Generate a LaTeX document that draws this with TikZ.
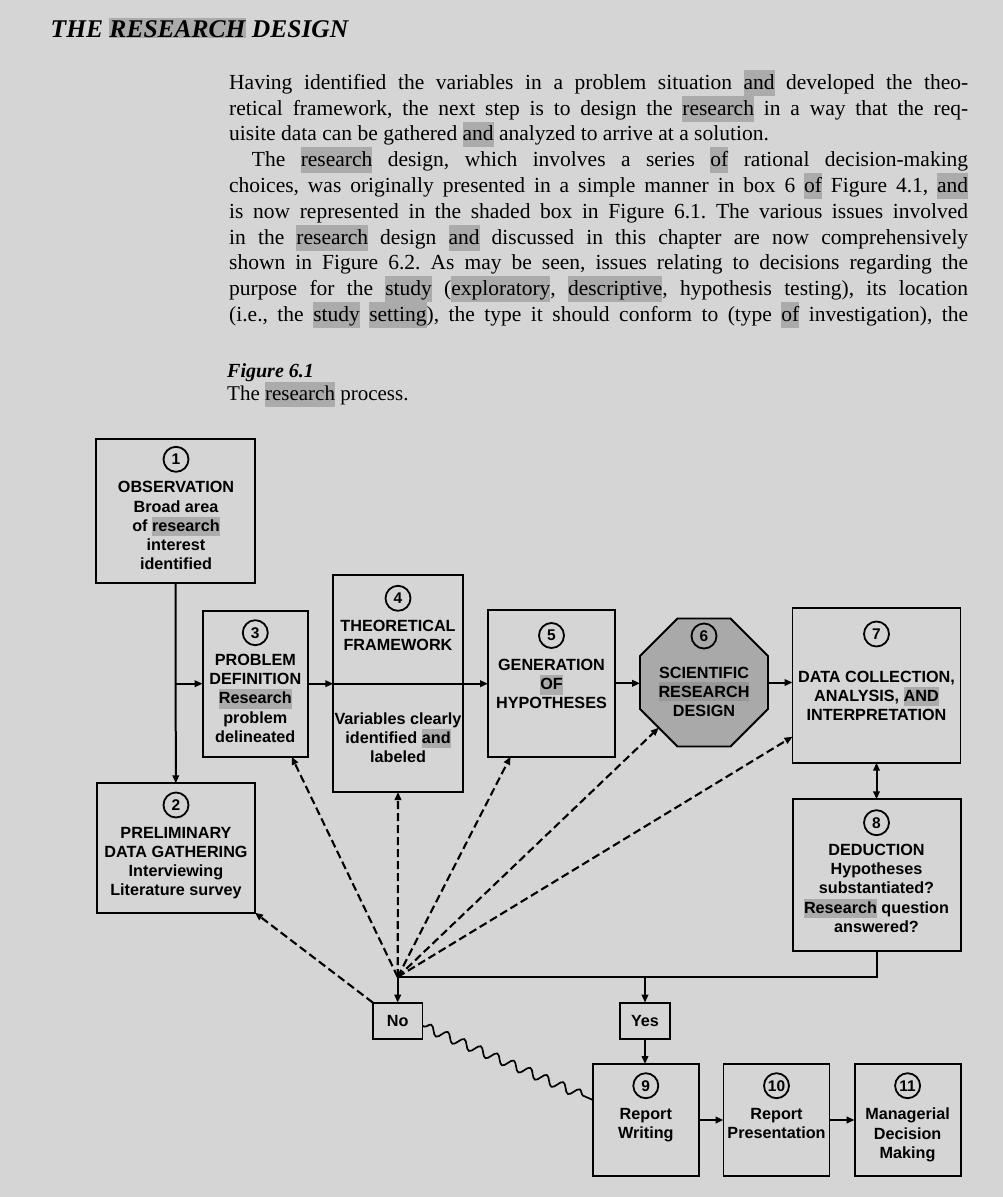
\documentclass[tikz,border=0pt]{standalone}
\usepackage{fontspec}
\setmainfont{Liberation Serif}
\setsansfont{Liberation Sans}
\usetikzlibrary{arrows.meta,decorations.pathmorphing,calc}
\definecolor{bg}{HTML}{D5D5D5}
\definecolor{hlc}{HTML}{ABABAB}
\definecolor{octfill}{HTML}{A9A9A9}
\definecolor{octhl}{HTML}{979797}
\newcommand\hl[1]{\smash{\setlength{\fboxsep}{0pt}\colorbox{hlc}{\rule[-0.3em]{0pt}{1.2em}#1}}}
\newcommand\hlo[1]{\smash{\setlength{\fboxsep}{0pt}\colorbox{octhl}{\rule[-0.25em]{0pt}{1.2em}#1}}}
\newcommand\hlh[1]{\smash{\setlength{\fboxsep}{0pt}\colorbox{hlc}{\rule{0pt}{0.75em}#1}}}
\tikzset{
  box/.style={draw, line width=1.8pt, inner sep=0pt, outer sep=0pt},
  num/.style={circle, draw, line width=1.8pt, minimum size=25pt, inner sep=0pt,
    font=\sffamily\bfseries\fontsize{15.5}{15.5}\selectfont},
  lbl/.style={inner sep=0pt, align=center, anchor=north,
    font=\sffamily\bfseries\fontsize{16.2}{19.2}\selectfont},
  tip/.style={-{Triangle[length=8pt,width=6.5pt]}},
  conn/.style={line width=2pt, tip},
  plain/.style={line width=2pt},
  dashconn/.style={line width=2.1pt, dash pattern=on 8pt off 4pt, tip},
  para/.style={inner sep=0pt, anchor=base west, font=\fontsize{21.5}{25.8}\selectfont},
}
\begin{document}
\frenchspacing
\begin{tikzpicture}[x=1pt,y=-1pt]
\fill[bg] (0,0) rectangle (1003,1197);
\useasboundingbox (0,0) rectangle (1003,1197);

% heading and text
\node[inner sep=0pt, anchor=base west, font=\bfseries\itshape\fontsize{25.5}{30}\selectfont] (title) at (50.5,37.3) {THE \hlh{RESEARCH} DESIGN};

\node[para] (p1) at (229,89.3) {\makebox[739pt][s]{Having identified the variables in a problem situation \hl{and} developed the theo-}};
\node[para] (p2) at (229,115.1) {\makebox[739pt][s]{retical framework, the next step is to design the \hl{research} in a way that the req-}};
\node[para] (p3) at (229,140.9) {uisite data can be gathered \hl{and} analyzed to arrive at a solution.};
\node[para] (p4) at (251.7,166.7) {\makebox[716.3pt][s]{The \hl{research} design, which involves a series \hl{of} rational decision-making}};
\node[para] (p5) at (229,192.5) {\makebox[739pt][s]{choices, was originally presented in a simple manner in box 6 \hl{of} Figure 4.1, \hl{and}}};
\node[para] (p6) at (229,218.3) {\makebox[739pt][s]{is now represented in the shaded box in Figure 6.1. The various issues involved}};
\node[para] (p7) at (229,244.1) {\makebox[739pt][s]{in the \hl{research} design \hl{and} discussed in this chapter are now comprehensively}};
\node[para] (p8) at (229,269.9) {\makebox[739pt][s]{shown in Figure 6.2. As may be seen, issues relating to decisions regarding the}};
\node[para] (p9) at (229,295.7) {\makebox[739pt][s]{purpose for the \hl{study} (\hl{exploratory}, \hl{descriptive}, hypothesis testing), its location}};
\node[para] (p10) at (229,321.5) {\makebox[739pt][s]{(i.e., the \hl{study} \hl{setting}), the type it should conform to (type \hl{of} investigation), the}};

\node[inner sep=0pt, anchor=base west, font=\bfseries\itshape\fontsize{20}{24}\selectfont] (figlab) at (227,377) {Figure 6.1};
\node[para, font=\fontsize{21}{25.8}\selectfont] (figcap) at (227,400.7) {The \hl{research} process.};

% boxes
\node[box, minimum width=159.3pt, minimum height=144pt] (b1) at (175.6,510.7) {};
\node[num] (n1) at (176,459.3) {1};
\node[lbl] (t1) at (176,481.3) {OBSERVATION\\Broad area\\of \hl{research}\\interest\\identified};

\node[box, minimum width=158.3pt, minimum height=129.4pt] (b2) at (175.8,848) {};
\node[num] (n2) at (176,805) {2};
\node[lbl] (t2) at (176,826.7) {PRELIMINARY\\DATA GATHERING\\Interviewing\\Literature survey};

\node[box, minimum width=105.3pt, minimum height=146pt] (b3) at (255.3,683.7) {};
\node[num] (n3) at (255.3,632.7) {3};
\node[lbl] (t3) at (255.3,654) {PROBLEM\\DEFINITION\\\hl{Research}\\problem\\delineated};

\node[box, minimum width=129.4pt, minimum height=217pt] (b4) at (398,683.5) {};
\node[num] (n4) at (398,598.3) {4};
\node[lbl] (t4a) at (398,620) {THEORETICAL\\FRAMEWORK};
\node[lbl] (t4b) at (398,712.3) {Variables clearly\\identified \hl{and}\\labeled};

\node[box, minimum width=127pt, minimum height=146.7pt] (b5) at (551.5,683.3) {};
\node[num] (n5) at (551.5,635.5) {5};
\node[lbl] (t5) at (551.5,659) {GENERATION\\\hl{OF}\\HYPOTHESES};

\node[inner sep=0pt, outer sep=0pt, minimum size=128pt] (b6) at (704,682.5) {};
\draw[line width=1.8pt, fill=octfill] (677.5,618.5) -- (730.5,618.5) -- (768,656) -- (768,709)
  -- (730.5,746.5) -- (677.5,746.5) -- (640,709) -- (640,656) -- cycle;
\node[num] (n6) at (704,636) {6};
\node[lbl] (t6) at (704,666.7) {SCIENTIFIC\\\hlo{RESEARCH}\\DESIGN};
\coordinate (o6sw) at (658.75,727.75);

\node[box, minimum width=168pt, minimum height=155pt] (b7) at (876.5,685.2) {};
\node[num] (n7) at (876.5,634) {7};
\node[lbl] (t7) at (876.5,670.7) {DATA COLLECTION,\\ANALYSIS, \hl{AND}\\INTERPRETATION};

\node[box, minimum width=168pt, minimum height=151.4pt] (b8) at (876.7,875) {};
\node[num] (n8) at (876.5,822.7) {8};
\node[lbl] (t8) at (876.5,844) {DEDUCTION\\Hypotheses\\substantiated?\\\hl{Research} question\\answered?};

\node[box, minimum width=49.5pt, minimum height=36.3pt, font=\sffamily\bfseries\fontsize{16.2}{19.2}\selectfont] (no) at (397.7,1020.8) {No};
\node[box, minimum width=50pt, minimum height=36.3pt, font=\sffamily\bfseries\fontsize{16.2}{19.2}\selectfont] (yes) at (645,1020.8) {Yes};

\node[box, minimum width=105.6pt, minimum height=112pt] (b9) at (645.8,1120) {};
\node[num] (n9) at (645.8,1085.7) {9};
\node[lbl] (t9) at (645.8,1108) {Report\\Writing};

\node[box, minimum width=106pt, minimum height=112pt] (b10) at (776.5,1120) {};
\node[num] (n10) at (776.5,1085.7) {10};
\node[lbl] (t10) at (776.5,1108) {Report\\Presentation};

\node[box, minimum width=106pt, minimum height=112pt] (b11) at (907.6,1120) {};
\node[num] (n11) at (907.6,1085.7) {11};
\node[lbl] (t11) at (907.6,1108) {Managerial\\Decision\\Making};

% connectors
\coordinate (hub) at (397.7,977);
\draw[conn] (b1.south) -- (b2.north);
\draw[conn] (b1.south |- b3.west) -- (b3.west);
\draw[conn] (b3.east) -- (b3.east -| b4.west);
\draw[conn] (b3.east -| b4.west) -- (b3.east -| b5.west);
\draw[conn] (b5.east) -- (b5.east -| b6.west);
\draw[conn] (b6.east) -- (b6.east -| b7.west);
\draw[line width=2pt, {Triangle[length=8pt,width=6.5pt]}-{Triangle[length=8pt,width=6.5pt]}] (b7.south) -- (b7.south |- b8.north);
\draw[plain] (b8.south) |- (hub);
\draw[conn] (hub) -- (no.north);
\draw[conn] (yes.north |- hub) -- (yes.north);
\draw[conn] (yes.south) -- (yes.south |- b9.north);
\draw[conn] (b9.east) -- (b10.west);
\draw[conn] (b10.east) -- (b11.west);
\draw[line width=1.7pt, decorate, decoration={snake, segment length=18pt, amplitude=4.5pt, pre length=2pt, post length=6pt}]
  ([yshift=-5pt]no.east) -- ([yshift=20pt]b9.west);

\draw[dashconn] (no.north west) -- (b2.south east);
\draw[dashconn] (hub) -- ([xshift=89pt]b3.south west);
\draw[dashconn] (hub) -- (b4.south);
\draw[dashconn] (hub) -- ([xshift=22.5pt]b5.south west);
\draw[dashconn] (hub) -- (o6sw);
\draw[dashconn] (hub) -- ([yshift=26pt]b7.south west);
\end{tikzpicture}
\end{document}
